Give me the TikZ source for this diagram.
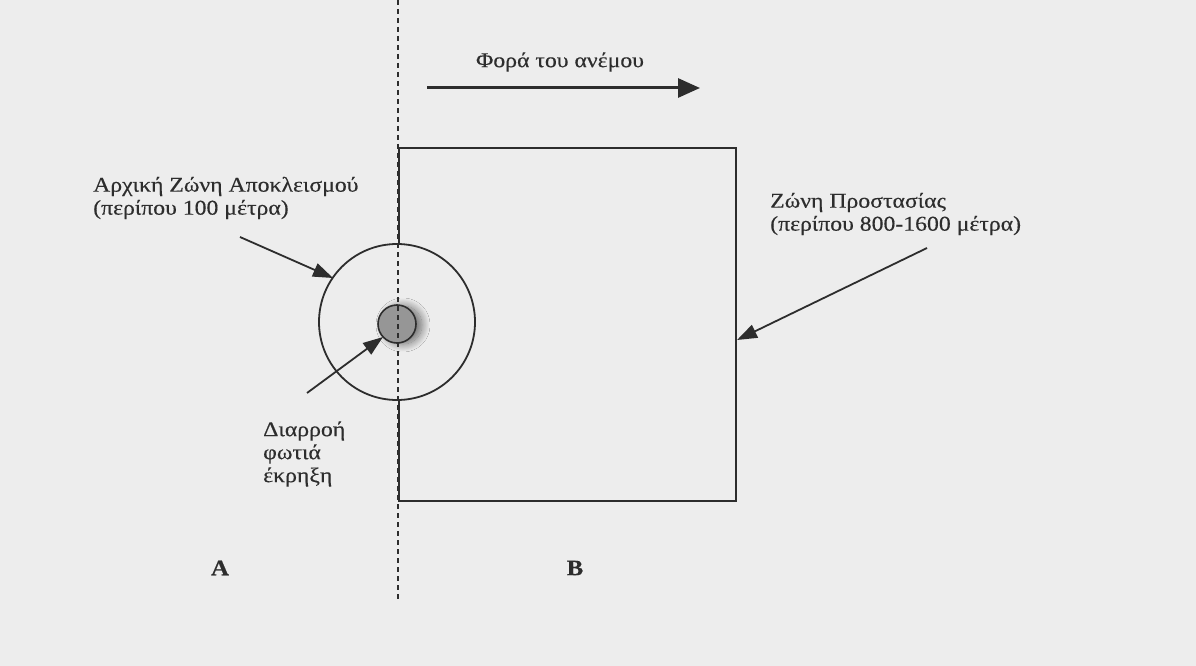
\documentclass[tikz,border=0pt]{standalone}
\usepackage{fontspec}
\setmainfont[FakeStretch=1.13,FakeBold=0.35]{Liberation Serif}
\usetikzlibrary{arrows.meta,shadows.blur}
\definecolor{bg}{RGB}{237,237,237}
\definecolor{ink}{RGB}{45,45,45}
\definecolor{spot}{RGB}{150,150,150}
\begin{document}
\begin{tikzpicture}[x=1pt,y=-1pt,
  lbl/.style={inner sep=0pt,align=left,text=ink,font=\fontsize{21}{23}\selectfont},
  big/.style={inner sep=0pt,text=ink,font=\fontsize{22}{24}\selectfont\bfseries},
  pointer/.style={draw=ink,line width=1.8pt,-{Triangle[length=20pt,width=14pt]}},
  zone/.style={draw=ink,line width=2.4pt},
  divider/.style={draw=ink,line width=1.2pt,dash pattern=on 5pt off 4pt}]
\useasboundingbox (0,0) rectangle (1196,666);
\fill[bg] (0,0) rectangle (1196,666);
% protection zone square
\node[zone,minimum width=337pt,minimum height=353pt,inner sep=0pt,anchor=north west] (sq) at (398,147) {};
% initial exclusion circle
\node[draw=ink,line width=1.8pt,fill=bg,circle,minimum size=156pt,inner sep=0pt] (circ) at (397,322) {};
% source spot
\node[draw=ink,line width=1.6pt,fill=spot,circle,minimum size=38pt,inner sep=0pt,
      blur shadow={shadow xshift=6pt,shadow yshift=-1pt,shadow blur radius=8pt,shadow blur steps=20,shadow opacity=55}] (src) at (397,324) {};
% dashed divider
\coordinate (dtop) at (398,0);
\coordinate (dbot) at (398,600);
\draw[divider] (dtop) -- (dbot);
% wind
\node[lbl] (wind) at (560,62) {Φορά του ανέμου};
\coordinate (w0) at (427,88);
\coordinate (w1) at (700,88);
\draw[draw=ink,line width=3pt,-{Triangle[length=22pt,width=19pt]}] (w0) -- (w1);
% labels
\node[lbl,anchor=west] (lz) at (93,198) {Αρχική Ζώνη Αποκλεισμού\\(περίπου 100 μέτρα)};
\node[lbl,anchor=west] (rz) at (770,214) {Ζώνη Προστασίας\\(περίπου 800-1600 μέτρα)};
\node[lbl,anchor=west] (leak) at (263,454) {Διαρροή\\φωτιά\\έκρηξη};
% pointers
\coordinate (p1) at (240,237);
\coordinate (t1) at (333,278);
\draw[pointer] (p1) -- (t1);
\coordinate (p2) at (307,393);
\coordinate (t2) at (383,337);
\draw[pointer] (p2) -- (t2);
\coordinate (p3) at (927,248);
\coordinate (t3) at (737,340);
\draw[pointer] (p3) -- (t3);
% zone letters
\node[big] (A) at (220,568) {A};
\node[big] (B) at (575,568) {B};
\end{tikzpicture}
\end{document}
